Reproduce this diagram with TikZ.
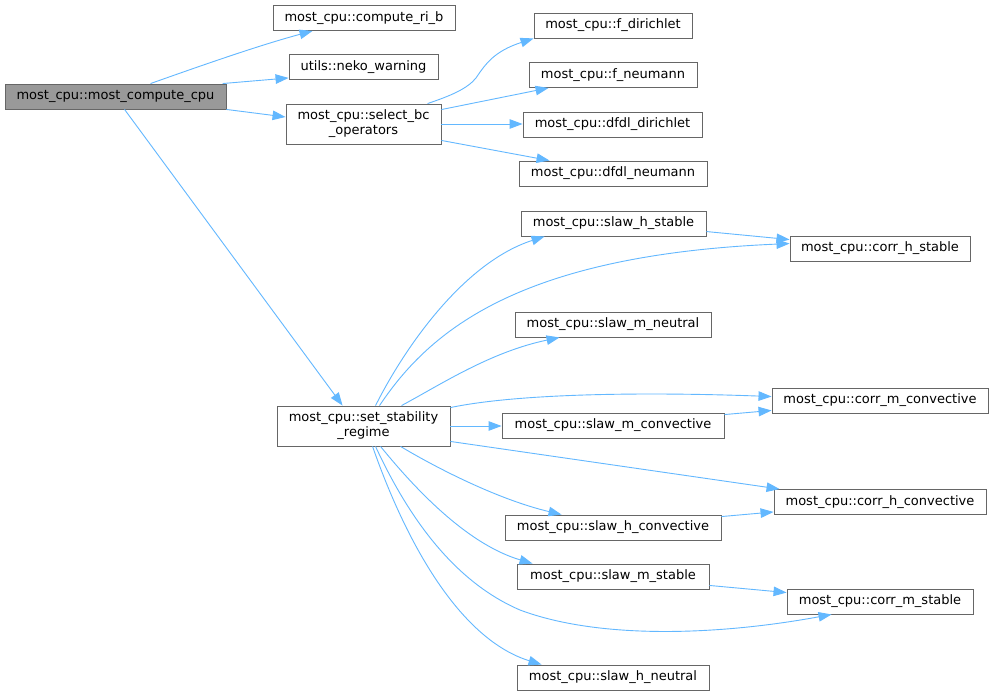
\documentclass[tikz,border=0pt]{standalone}
\usepackage{fontspec}
\setmainfont{DejaVu Sans}
\usetikzlibrary{arrows.meta,calc}
\definecolor{edgeblue}{HTML}{63B8FF}
\definecolor{boxgray}{HTML}{666666}
\definecolor{rootgray}{HTML}{999999}
\begin{document}
\begin{tikzpicture}[x=1pt,y=-1pt,
  box/.style={draw=boxgray, fill=white, line width=0.9pt, inner sep=0pt, align=center,
    font=\fontsize{13}{15}\selectfont, minimum height=25pt},
  rootbox/.style={box, fill=rootgray},
  tall/.style={minimum height=40pt},
  edge/.style={draw=edgeblue, line width=0.9pt, -{Triangle[length=13pt,width=9.5pt]}}]
\fill[white] (0,0) rectangle (993,696);
\useasboundingbox (0,0) rectangle (993,696);

% nodes
\node[rootbox, minimum width=221pt] (root) at (115.5,96.5) {most\_cpu::most\_compute\_cpu};
\node[box, minimum width=182pt] (cri) at (364,18) {most\_cpu::compute\_ri\_b};
\node[box, minimum width=149pt] (neko) at (363.5,67) {utils::neko\_warning};
\node[box, tall, minimum width=155pt] (sbc) at (363.5,124) {most\_cpu::select\_bc\\\_operators};
\node[box, minimum width=158pt] (fd) at (613,25.5) {most\_cpu::f\_dirichlet};
\node[box, minimum width=168pt] (fn) at (613,75) {most\_cpu::f\_neumann};
\node[box, minimum width=179pt] (dd) at (612.5,124.5) {most\_cpu::dfdl\_dirichlet};
\node[box, minimum width=188pt] (dn) at (613,173.5) {most\_cpu::dfdl\_neumann};
\node[box, minimum width=185pt] (shs) at (613.5,223.5) {most\_cpu::slaw\_h\_stable};
\node[box, minimum width=180pt] (chs) at (880,248.5) {most\_cpu::corr\_h\_stable};
\node[box, minimum width=196pt] (smn) at (613,324.5) {most\_cpu::slaw\_m\_neutral};
\node[box, tall, minimum width=173pt] (ss) at (363.5,426) {most\_cpu::set\_stability\\\_regime};
\node[box, minimum width=222pt] (smc) at (613,425.5) {most\_cpu::slaw\_m\_convective};
\node[box, minimum width=216pt] (cmc) at (880,400.5) {most\_cpu::corr\_m\_convective};
\node[box, minimum width=212pt] (chc) at (880,502) {most\_cpu::corr\_h\_convective};
\node[box, minimum width=216pt] (shc) at (613,527.5) {most\_cpu::slaw\_h\_convective};
\node[box, minimum width=192pt] (sms) at (613,576.5) {most\_cpu::slaw\_m\_stable};
\node[box, minimum width=186pt] (cms) at (880,601.5) {most\_cpu::corr\_m\_stable};
\node[box, minimum width=192pt] (shn) at (613,677.5) {most\_cpu::slaw\_h\_neutral};

% edges from root
\draw[edge] ($(root.north west)+(146,0)$) .. controls (200,66) and (260,45) .. ($(cri.south west)+(40,0)$);
\draw[edge] ($(root.north west)+(218,0)$) -- ($(neko.south west)+(0,-2)$);
\draw[edge] (root.south east) -- ($(sbc.west)+(0,-7)$);
\draw[edge] ($(root.south west)+(120,0)$) -- ($(ss.north west)+(66,0)$);

% edges from select_bc
\draw[edge] ($(sbc.north west)+(142,0)$) .. controls (450,96) and (467,89) .. (476,78)
  .. controls (486,63) and (495,51) .. (fd.south west);
\draw[edge] ($(sbc.north east)+(0,6)$) -- ($(fn.south west)+(20,0)$);
\draw[edge] (sbc.east) -- (sbc.east -| dd.west);
\draw[edge] ($(sbc.south east)+(0,-4)$) -- ($(dn.north west)+(31,0)$);

% edges from set_stability_regime
\draw[edge] ($(ss.north west)+(99,0)$) .. controls (406,345) and (465,262) .. ($(shs.south west)+(24,0)$);
\draw[edge] ($(ss.north west)+(103,0)$) .. controls (430,330) and (520,255) .. ($(chs.north west)+(0,8)$);
\draw[edge] ($(ss.north west)+(125,0)$) .. controls (440,385) and (490,352) .. ($(smn.south west)+(45,0)$);
\draw[edge] ($(ss.north east)+(0,2)$) .. controls (520,393) and (650,392) .. ($(cmc.north west)+(0,9)$);
\draw[edge] (ss.east) -- (ss.east -| smc.west);
\draw[edge] ($(ss.south east)+(0,-5)$) -- ($(chc.north west)+(6,0)$);
\draw[edge] ($(ss.south west)+(124,0)$) .. controls (440,470) and (500,500) .. ($(shc.north west)+(57,0)$);
\draw[edge] ($(ss.south west)+(104,0)$) .. controls (420,495) and (470,545) .. ($(sms.north west)+(16,0)$);
\draw[edge] ($(ss.south west)+(99,0)$) .. controls (405,510) and (450,580) .. (520,610)
  .. controls (600,640) and (720,635) .. ($(cms.south west)+(45,0)$);
\draw[edge] ($(ss.south west)+(96,0)$) .. controls (408,548) and (462,640) .. ($(shn.north west)+(25,0)$);

% edges between second-level and corr nodes
\draw[edge] ($(shs.north east)+(0,21)$) -- ($(chs.north west)+(0,4)$);
\draw[edge] ($(smc.north east)+(0,2)$) -- ($(cmc.south west)+(0,-3)$);
\draw[edge] ($(shc.north east)+(0,2)$) -- ($(chc.south west)+(0,-3)$);
\draw[edge] ($(sms.south east)+(0,-4)$) -- ($(cms.north west)+(0,4)$);
\end{tikzpicture}
\end{document}
